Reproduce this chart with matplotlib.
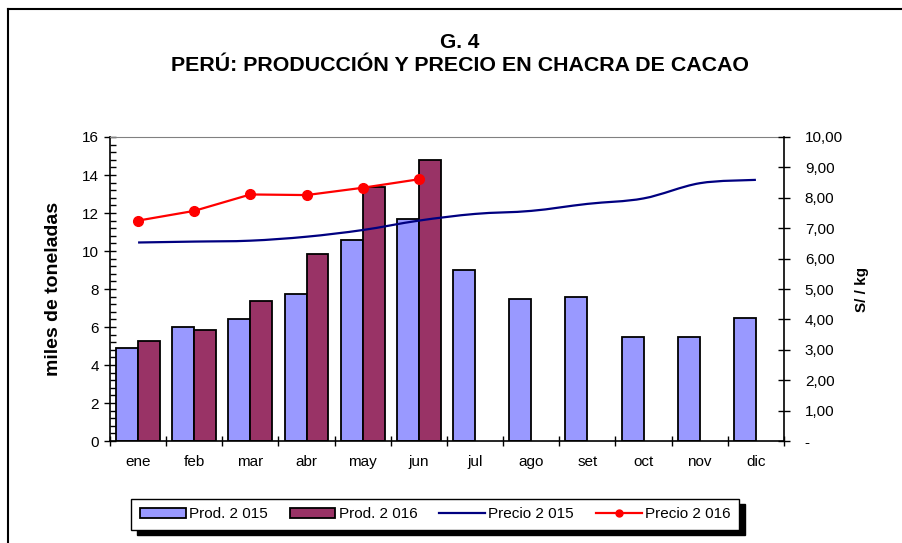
import numpy as np
import matplotlib
matplotlib.use("Agg")
import matplotlib.pyplot as plt
from matplotlib.path import Path
from matplotlib.patches import PathPatch
from matplotlib.lines import Line2D
from matplotlib.ticker import FuncFormatter, MultipleLocator

plt.rcParams['font.family'] = ['Liberation Sans', 'DejaVu Sans']

months = ["ene", "feb", "mar", "abr", "may", "jun", "jul", "ago", "set", "oct", "nov", "dic"]
prod_2015 = [4.9, 6.0, 6.4, 7.75, 10.6, 11.7, 9.0, 7.45, 7.6, 5.5, 5.5, 6.5]
prod_2016 = [5.25, 5.85, 7.35, 9.85, 13.35, 14.8]
precio_2015 = [6.53, 6.56, 6.59, 6.72, 6.94, 7.25, 7.47, 7.57, 7.80, 7.98, 8.48, 8.59]
precio_2016 = [7.25, 7.57, 8.11, 8.09, 8.33, 8.61]

c_2015 = "#9999FF"
c_2016 = "#993366"
c_p15 = "#000080"
c_p16 = "#FF0000"


def smooth_path(xs, ys):
    # Excel-like smoothed line: cubic bezier segments (Catmull-Rom control points)
    pts = np.column_stack([xs, ys])
    n = len(pts)
    verts = [pts[0]]
    codes = [Path.MOVETO]
    for i in range(n - 1):
        p0 = pts[i - 1] if i > 0 else pts[i]
        p1 = pts[i]
        p2 = pts[i + 1]
        p3 = pts[i + 2] if i + 2 < n else pts[i + 1]
        c1 = p1 + (p2 - p0) / 6.0
        c2 = p2 - (p3 - p1) / 6.0
        verts += [c1, c2, p2]
        codes += [Path.CURVE4] * 3
    return Path(verts, codes)


def main():
    fig = plt.figure(figsize=(9.03, 5.43), dpi=100)
    ax = fig.add_axes([0.1218, 0.1878, 0.7464, 0.5599])

    x = np.arange(len(months))
    w = 0.39
    ax.bar(x, prod_2015, width=-w, align='edge', color=c_2015,
           edgecolor='black', linewidth=1.3, zorder=2)
    ax.bar(x[:len(prod_2016)], prod_2016, width=w, align='edge', color=c_2016,
           edgecolor='black', linewidth=1.3, zorder=2)

    ax.set_xlim(-0.5, len(months) - 0.5)
    ax.set_ylim(0, 16)
    ax.yaxis.set_major_locator(MultipleLocator(2))
    ax.yaxis.set_minor_locator(MultipleLocator(0.4))
    ax.tick_params(axis='y', which='major', direction='inout', length=8, width=1,
                   labelsize=11, pad=4)
    ax.tick_params(axis='y', which='minor', direction='in', length=4, width=1)

    ax.set_xticks(x)
    ax.set_xticklabels(months)
    ax.set_xticks(np.arange(-0.5, len(months)), minor=True)
    ax.tick_params(axis='x', which='major', length=0, labelsize=11, pad=10)
    ax.tick_params(axis='x', which='minor', direction='inout', length=7, width=1)

    ax.set_ylabel("miles de toneladas", fontsize=14, fontweight='bold', labelpad=14)

    for s in ['left', 'bottom']:
        ax.spines[s].set_color('black')
        ax.spines[s].set_linewidth(1.2)
    ax.spines['top'].set_color('#808080')
    ax.spines['right'].set_visible(False)

    ax2 = ax.twinx()
    ax2.set_ylim(0, 10)
    ax2.yaxis.set_major_locator(MultipleLocator(1))
    ax2.yaxis.set_major_formatter(FuncFormatter(
        lambda v, p: "-" if abs(v) < 1e-9 else f"{v:.2f}".replace(".", ",")))
    ax2.tick_params(axis='y', direction='inout', length=8, width=1, labelsize=11, pad=11)
    ax2.spines['right'].set_color('black')
    ax2.spines['right'].set_linewidth(1.2)
    for s in ['left', 'top', 'bottom']:
        ax2.spines[s].set_visible(False)
    ax2.set_ylabel("S/ / kg", fontsize=11, fontweight='bold', labelpad=9)

    ax2.add_patch(PathPatch(smooth_path(x, precio_2015), facecolor='none',
                            edgecolor=c_p15, linewidth=1.6, zorder=3))
    ax2.plot(x[:len(precio_2016)], precio_2016, color=c_p16, linewidth=1.6,
             marker='o', markersize=7, zorder=4)

    fig.text(0.509, 0.921, "G. 4", ha='center', va='center', fontsize=15, fontweight='bold')
    fig.text(0.509, 0.880, "PERÚ: PRODUCCIÓN Y PRECIO EN CHACRA DE CACAO",
             ha='center', va='center', fontsize=15.4, fontweight='bold')

    handles = [
        plt.Rectangle((0, 0), 1, 1, facecolor=c_2015, edgecolor='black', linewidth=1.3),
        plt.Rectangle((0, 0), 1, 1, facecolor=c_2016, edgecolor='black', linewidth=1.3),
        Line2D([], [], color=c_p15, linewidth=1.6),
        Line2D([], [], color=c_p16, linewidth=1.6, marker='o', markersize=5),
    ]
    labels = ["Prod. 2 015", "Prod. 2 016", "Precio 2 015", "Precio 2 016"]
    leg = fig.legend(handles, labels, loc='center', bbox_to_anchor=(0.482, 0.053),
                     ncol=4, fontsize=11, frameon=True, fancybox=False,
                     shadow={'ox': 4, 'oy': -4, 'facecolor': 'black',
                             'edgecolor': 'black', 'alpha': 1},
                     handlelength=3.0, handleheight=0.6, handletextpad=0.2,
                     columnspacing=1.45, borderpad=0.55)
    leg.get_frame().set_edgecolor('black')
    leg.get_frame().set_linewidth(1.0)

    # outer frame (left and top edges)
    fig.add_artist(Line2D([0.0088, 0.0088], [0.0, 0.983], color='black', linewidth=1.5,
                          transform=fig.transFigure))
    fig.add_artist(Line2D([0.0088, 1.0], [0.983, 0.983], color='black', linewidth=1.5,
                          transform=fig.transFigure))

    fig.savefig("out.png", dpi=100)


if __name__ == "__main__":
    main()
